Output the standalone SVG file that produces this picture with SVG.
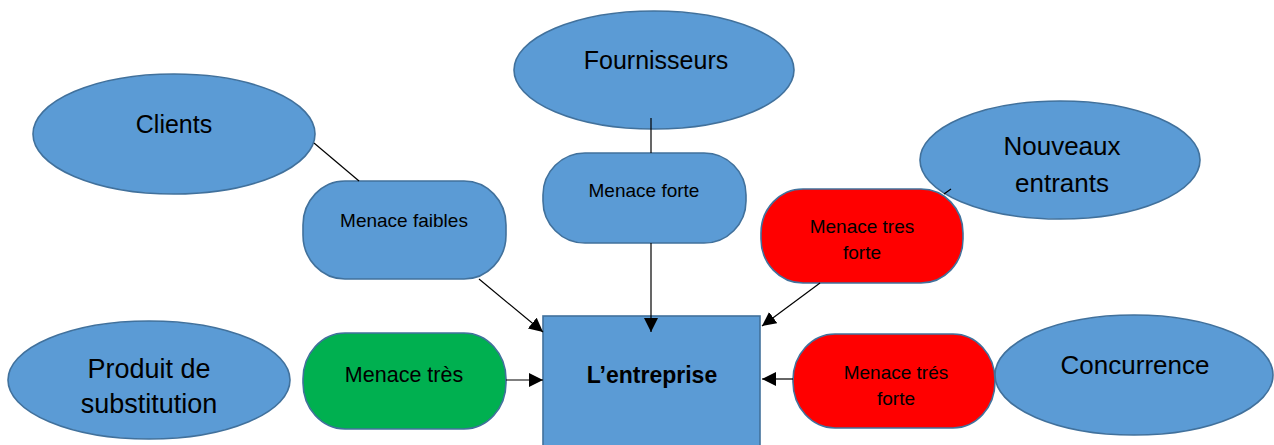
<svg xmlns="http://www.w3.org/2000/svg" width="1274" height="445" viewBox="0 0 1274 445">
  <defs>
    <marker id="arrow" viewBox="0 0 14 14" refX="14" refY="7" markerWidth="14" markerHeight="14" markerUnits="userSpaceOnUse" orient="auto">
      <path d="M0,0 L14,7 L0,14 Z" fill="#000"/>
    </marker>
    <style>
      .actor { fill: #5B9BD5; stroke: #41719C; stroke-width: 1.6; }
      .threat { stroke: #41719C; stroke-width: 1.6; }
      .blue { fill: #5B9BD5; }
      .red { fill: #FF0000; }
      .green { fill: #00B050; }
      .core { fill: #5B9BD5; stroke: #41719C; stroke-width: 1.6; }
      text { font-family: "Liberation Sans", Arial, sans-serif; fill: #000; text-anchor: middle; }
      .big { font-size: 25px; }
      .small { font-size: 19px; }
      .link { stroke: #000; stroke-width: 1.2; fill: none; }
    </style>
  </defs>

  <rect width="1274" height="445" fill="#fff"/>

  <!-- Actors (ellipses) -->
  <g id="clients">
    <ellipse class="actor" cx="174" cy="134" rx="141" ry="60"/>
    <text class="big" x="174" y="133">Clients</text>
  </g>
  <g id="fournisseurs">
    <ellipse class="actor" cx="654" cy="70" rx="140" ry="59"/>
    <text class="big" x="656" y="69">Fournisseurs</text>
  </g>
  <g id="nouveaux-entrants">
    <ellipse class="actor" cx="1060" cy="160" rx="140" ry="59"/>
    <text class="big" x="1062" y="155" style="font-size:26px">Nouveaux</text>
    <text class="big" x="1062" y="192" style="font-size:26px">entrants</text>
  </g>
  <g id="produit-substitution">
    <ellipse class="actor" cx="149" cy="380" rx="141" ry="59"/>
    <text class="big" x="149" y="378" style="font-size:27px">Produit de</text>
    <text class="big" x="149" y="413" style="font-size:27px">substitution</text>
  </g>
  <g id="concurrence">
    <ellipse class="actor" cx="1134" cy="375" rx="139" ry="60"/>
    <text class="big" x="1135" y="374" style="font-size:26px">Concurrence</text>
  </g>

  <!-- Threat levels (rounded boxes) -->
  <g id="menace-faibles">
    <rect class="threat blue" x="303" y="181" width="203" height="98" rx="42" ry="44"/>
    <text class="small" x="404" y="227">Menace faibles</text>
  </g>
  <g id="menace-forte">
    <rect class="threat blue" x="543" y="153" width="203" height="90" rx="42" ry="42"/>
    <text class="small" x="644" y="197">Menace forte</text>
  </g>
  <g id="menace-tres-forte">
    <rect class="threat red" x="761" y="189" width="202" height="94" rx="42" ry="44"/>
    <text class="small" x="862" y="233">Menace tres</text>
    <text class="small" x="862" y="259">forte</text>
  </g>
  <g id="menace-tres">
    <rect class="threat green" x="303" y="333" width="203" height="96" rx="42" ry="46"/>
    <text class="small" x="404" y="382" style="font-size:21.5px">Menace très</text>
  </g>
  <g id="menace-tres-forte-concurrence">
    <rect class="threat red" x="793" y="334" width="202" height="94" rx="42" ry="46"/>
    <text class="small" x="896" y="379">Menace trés</text>
    <text class="small" x="896" y="405">forte</text>
  </g>

  <!-- Central company -->
  <g id="entreprise">
    <rect class="core" x="543" y="316" width="217" height="140"/>
    <text x="652" y="383" style="font-size:23px;font-weight:bold">L’entreprise</text>
  </g>

  <!-- Connectors -->
  <g id="connectors">
    <line class="link" x1="314" y1="143" x2="359" y2="181"/>
    <line class="link" x1="479" y1="279" x2="543" y2="332" marker-end="url(#arrow)"/>
    <line class="link" x1="651" y1="118" x2="651" y2="153"/>
    <line class="link" x1="651" y1="243" x2="651" y2="332" marker-end="url(#arrow)"/>
    <line class="link" x1="944" y1="194" x2="951" y2="189"/>
    <line class="link" x1="820" y1="283" x2="762" y2="326" marker-end="url(#arrow)"/>
    <line class="link" x1="506" y1="380" x2="543" y2="380" marker-end="url(#arrow)"/>
    <line class="link" x1="793" y1="379" x2="762" y2="379" marker-end="url(#arrow)"/>
  </g>
</svg>
